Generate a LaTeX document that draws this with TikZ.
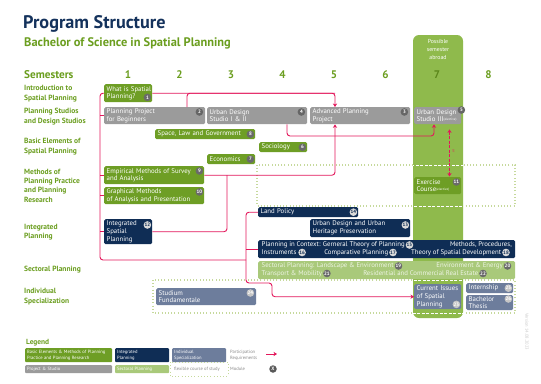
\documentclass[tikz,border=0pt]{standalone}
\usepackage{fontspec}
\setmainfont{PT Sans}
\usetikzlibrary{arrows.meta,positioning,calc}
\hyphenpenalty=10000
\exhyphenpenalty=10000
\hbadness=10000
\hfuzz=20pt
\definecolor{navy}{HTML}{14325C}
\definecolor{lblgreen}{HTML}{6B9E1F}
\definecolor{modgreen}{HTML}{6E9E25}
\definecolor{colgreen}{HTML}{8FBA4C}
\definecolor{secgreen}{HTML}{A9C97A}
\definecolor{modgrey}{HTML}{9B9B9B}
\definecolor{modnavy}{HTML}{0F2D55}
\definecolor{slate}{HTML}{6D7D9C}
\definecolor{reqc}{HTML}{E3175B}
\definecolor{flexc}{HTML}{C6D99C}
\definecolor{numgrey}{HTML}{6A6A6A}
\definecolor{txtgrey}{HTML}{8A8A8A}
\newcommand\modfont{\fontsize{6.8}{7.8}\selectfont\hyphenpenalty=10000 }
\newcommand\elect{\raisebox{1.8pt}{\fontsize{3.3}{3.5}\selectfont (elective)}}
\tikzset{
  mod/.style={anchor=north west, rounded corners=1.5pt, inner xsep=2.5pt, inner ysep=0pt,
    text=white, align=left, font=\modfont},
  num/.style={circle, fill=numgrey, text=white, inner sep=0pt, minimum size=7.6pt,
    font=\fontsize{4.9}{5}\selectfont\bfseries},
  numn/.style={num, fill=white!70!gray, text=modnavy},
  nums/.style={num, fill=white!55!gray},
  intxt/.style={inner sep=0pt, font=\modfont, text=white},
  sectxt/.style={inner sep=0pt, font=\modfont, text=white!80!secgreen},
  rowlbl/.style={anchor=west, align=left, inner sep=0pt, text=lblgreen,
    font=\fontsize{7.5}{9.4}\selectfont\bfseries},
  semnum/.style={anchor=base, inner sep=0pt, text=lblgreen, font=\fontsize{11}{13}\selectfont\bfseries},
  req/.style={draw=reqc, line width=0.9pt, rounded corners=3pt},
  reqtip/.style={-{Stealth[length=3.5pt,width=4.2pt]}},
  flex/.style={draw=flexc, line width=1.1pt, dash pattern=on 1pt off 2.2pt},
  flexw/.style={draw=white, line width=0.9pt, dash pattern=on 3pt off 1.5pt},
  lgbox/.style={anchor=north west, rounded corners=1pt, inner xsep=2pt, inner ysep=0pt,
    text=white, align=left, font=\fontsize{4.6}{5.8}\selectfont},
  lgtxt/.style={anchor=west, inner sep=0pt, align=left, text=txtgrey, font=\fontsize{4.6}{5.8}\selectfont}
}
\begin{document}
\begin{tikzpicture}[x=1pt,y=-1pt]
\fill[white] (0,0) rectangle (541,383);
\useasboundingbox (0,0) rectangle (541,383);

% titles
\node[anchor=base west, inner sep=0pt, text=navy, font=\fontsize{18.2}{22}\selectfont\bfseries] (title) at (23,28) {Program Structure};
\node[anchor=base west, inner sep=0pt, text=lblgreen, font=\fontsize{12.4}{14}\selectfont\bfseries] (subtitle) at (24,46) {Bachelor of Science in Spatial Planning};

% flexible course boxes (under column)
\draw[flex] (257,165) rectangle (515,206);
\draw[flex] (153,280) rectangle (515,313);

% semester 7 column
\fill[colgreen, rounded corners=6pt] (413,35) rectangle (463,318);
\begin{scope}
  \clip (413,0) rectangle (463,383);
  \draw[flexw] (257,165) rectangle (515,206);
  \draw[flexw] (153,280) rectangle (515,313);
\end{scope}
\node[inner sep=0pt, align=center, text=white, font=\fontsize{5.8}{7.6}\selectfont] (abroad) at (438,49.5) {Possible\\semester\\abroad};

% semesters
\node[anchor=base west, inner sep=0pt, text=lblgreen, font=\fontsize{11.2}{13}\selectfont\bfseries] (semlbl) at (24,78) {Semesters};
\node[semnum] (s1) at (128,78) {1};
\node[semnum] (s2) at (179.5,78) {2};
\node[semnum] (s3) at (231,78) {3};
\node[semnum] (s4) at (282.5,78) {4};
\node[semnum] (s5) at (334,78) {5};
\node[semnum] (s6) at (385.5,78) {6};
\node[semnum, text=lblgreen!85!black] (s7) at (437,78) {7};
\node[semnum] (s8) at (488.5,78) {8};

% row labels
\node[rowlbl] (r1) at (24,93.5) {Introduction to\\Spatial Planning};
\node[rowlbl] (r2) at (24,116.5) {Planning Studios\\and Design Studios};
\node[rowlbl] (r3) at (24,146.5) {Basic Elements of\\Spatial Planning};
\node[rowlbl] (r4) at (24,185.5) {Methods of\\Planning Practice\\and Planning\\Research};
\node[rowlbl] (r5) at (24,232) {Integrated\\Planning};
\node[rowlbl] (r6) at (24,270) {Sectoral Planning};
\node[rowlbl] (r7) at (24,296.5) {Individual\\Specialization};

% modules
\node[mod, fill=modgreen, minimum width=48, text width=43, minimum height=18] (m1) at (104,84) {\mbox{What is Spatial}\\Planning?};
\node[mod, fill=modgrey, minimum width=101, text width=96, minimum height=17] (m2) at (104,107) {Planning Project\\for Beginners};
\node[mod, fill=modgrey, minimum width=100, text width=95, minimum height=17] (m4) at (207,107) {Urban Design\\Studio I \& II};
\node[mod, fill=modgrey, minimum width=100, text width=95, minimum height=17] (m3) at (310,107) {Advanced Planning\\Project};
\node[mod, fill=modgrey, minimum width=47, text width=42, minimum height=17] (m5) at (414,107) {\mbox{Urban Design}\\\mbox{Studio III\elect}};
\node[mod, fill=modgreen, minimum width=100, text width=95, minimum height=10] (m8) at (155,129) {Space, Law and Government};
\node[mod, fill=modgreen, minimum width=48, text width=43, minimum height=10] (m6) at (259,142) {Sociology};
\node[mod, fill=modgreen, minimum width=48, text width=43, minimum height=10] (m7) at (207,154) {Economics};
\node[mod, fill=modgreen, minimum width=100, text width=95, minimum height=18] (m9) at (104,166) {Empirical Methods of Survey\\and Analysis};
\node[mod, fill=modgreen, minimum width=100, text width=95, minimum height=17] (m10) at (104,187) {Graphical Methods\\of Analysis and Presentation};
\node[mod, fill=modgreen, minimum width=47, text width=42, minimum height=17] (m11) at (414,177) {Exercise\\\mbox{Course\elect}};
\node[mod, fill=modnavy, minimum width=48, text width=43, minimum height=25] (m12) at (104,219) {Integrated\\Spatial\\Planning};
\node[mod, fill=modnavy, minimum width=100, text width=95, minimum height=10] (m14) at (258,207) {Land Policy};
\node[mod, fill=modnavy, minimum width=100, text width=95, minimum height=18] (m13) at (310,219) {Urban Design and Urban\\Heritage Preservation};
\node[mod, fill=modnavy, minimum width=257, text width=252, minimum height=18] (m15) at (258,240) {};
\node[mod, fill=secgreen, minimum width=257, text width=252, minimum height=18] (m19) at (258,261) {};
\node[mod, fill=slate, minimum width=100, text width=95, minimum height=17] (m24) at (156,288) {Studium\\Fundamentale};
\node[mod, fill=slate, minimum width=47, text width=42, minimum height=25] (m23) at (414,284) {\mbox{Current Issues}\\of Spatial\\Planning};
\node[mod, fill=slate, minimum width=47, text width=42, minimum height=10] (m25) at (466,283) {Internship};
\node[mod, fill=slate, minimum width=47, text width=42, minimum height=15] (m26) at (466,295) {Bachelor\\Thesis};

% numbers
\node[num] (n1) at ([xshift=-5pt,yshift=5pt]m1.south east) {1};
\node[num, fill=black!60] (n2) at ([xshift=-6pt,yshift=-5pt]m2.north east) {2};
\node[num, fill=black!60] (n4) at ([xshift=-6pt,yshift=-5pt]m4.north east) {4};
\node[num, fill=black!60] (n3) at ([xshift=-6pt,yshift=-5pt]m3.north east) {3};
\node[num, fill=black!60] (n5) at ([yshift=-3pt]m5.north east) {5};
\node[num] (n8) at ([xshift=-5pt]m8.east) {8};
\node[num] (n6) at ([xshift=-5pt]m6.east) {6};
\node[num] (n7) at ([xshift=-5pt]m7.east) {7};
\node[num] (n9) at ([xshift=-5pt,yshift=-5pt]m9.north east) {9};
\node[num] (n10) at ([xshift=-5pt,yshift=-5pt]m10.north east) {10};
\node[num] (n11) at ([xshift=-5pt,yshift=-5pt]m11.north east) {11};
\node[numn] (n12) at ([xshift=-5pt,yshift=-6pt]m12.north east) {12};
\node[numn] (n14) at ([xshift=-5pt]m14.east) {14};
\node[numn] (n13) at ([xshift=-5pt,yshift=-6pt]m13.north east) {13};
\node[nums] (n24) at ([xshift=-6pt,yshift=-5pt]m24.north east) {24};
\node[nums] (n23) at ([xshift=-5pt,yshift=5pt]m23.south east) {23};
\node[nums] (n25) at ([xshift=-5pt]m25.east) {25};
\node[nums] (n26) at ([xshift=-5pt,yshift=-4pt]m26.north east) {26};

% texts inside combined navy box
\node[intxt, anchor=west] (t15) at (261.5,245) {Planning in Context: Gerneral Theory of Planning};
\node[numn, right=0.6pt of t15] (n15) {15};
\node[intxt, anchor=east] (tmeth) at (512,245) {Methods, Procedures,};
\node[intxt, anchor=west] (t16) at (261.5,252.5) {Instruments};
\node[numn, right=1.5pt of t16] (n16) {16};
\node[numn] (n17) at (393,252.5) {17};
\node[intxt, anchor=east] (t17) at ([xshift=-0.6pt]n17.west) {Comparative Planning};
\node[numn] (n18) at (506,252.5) {18};
\node[intxt, anchor=east] (t18) at ([xshift=-0.6pt]n18.west) {Theory of Spatial Development};

% texts inside sectoral box
\node[sectxt, anchor=west] (t19) at (261.5,266) {Sectoral Planning: Landscape \& Environment};
\node[num, right=0.6pt of t19] (n19) {19};
\node[num] (n20) at (507.5,266) {20};
\node[sectxt, anchor=east] (t20) at ([xshift=-0.6pt]n20.west) {Environment \& Energy};
\node[sectxt, anchor=west] (t21) at (261.5,273.5) {Transport \& Mobility};
\node[num, right=0.6pt of t21] (n21) {21};
\node[num] (n22) at (483,273.5) {22};
\node[sectxt, anchor=east] (t22) at ([xshift=-0.6pt]n22.west) {Residential and Commercial Real Estate};

% connector helper coordinates
\coordinate (lx) at (100,0);
\coordinate (tj) at (246,260);
\coordinate (tk) at (246,283);
\coordinate (tk2) at (272,283);
\coordinate (ax) at (335,0);
\coordinate (bx) at (187,0);
\coordinate (cx) at (227,0);
\coordinate (dx) at (287,0);
\coordinate (dy) at (0,136);
\coordinate (ex) at (434,0);
\coordinate (fx) at (449.5,0);

% participation requirements
\draw[req] (m1.west) -| (lx |- tj) -- (tj);
\draw[req] (m2.west) -- (m2.west -| lx);
\draw[req] (m9.west) -- (m9.west -| lx);
\draw[req] (m10.west) -- (m10.west -| lx);
\draw[req] (m12.west) -- (m12.west -| lx);
\draw[req, reqtip] (m14.west) -| (tk) -- (tk2) |- (m23.west);
\draw[req] (m15.west) -- (m15.west -| tk);
\draw[req, reqtip] (m1.east) -| (ax |- m3.north);
\draw[req] (bx |- m2.north) |- (ax |- m1.east);
\draw[req, reqtip] (m9.east) -| (ax |- m3.south);
\draw[req] (m12.east) -| (cx |- m9.east);
\draw[req, reqtip] (dx |- m4.south) -- (dx |- dy) -| (ex |- m5.south);
\draw[draw=reqc, line width=0.9pt, dash pattern=on 3pt off 1.5pt,
  {Stealth[length=3.5pt,width=4.2pt]}-{Stealth[length=3.5pt,width=4.2pt]}]
  ([yshift=-5pt]fx |- m5.south) -- ([yshift=0.5pt]fx |- m11.north);
\node[rotate=-90, inner sep=0pt, text=reqc, font=\fontsize{3.4}{4}\selectfont] (orlbl) at (453.5,151) {or};

% legend
\node[anchor=base west, inner sep=0pt, text=lblgreen, font=\fontsize{7.4}{8}\selectfont\bfseries] (legend) at (26,344) {Legend};
\node[lgbox, fill=modgreen, minimum width=87, text width=83, minimum height=14] (lg1) at (25,348) {Basic Elements \& Methods of Planning\\Practice and Planning Research};
\node[lgbox, fill=modnavy, minimum width=54, text width=50, minimum height=14] (lg2) at (115,348) {Integrated\\Planning};
\node[lgbox, fill=slate, minimum width=54, text width=50, minimum height=14] (lg3) at (172,348) {Individual\\Specialization};
\node[lgtxt] (lgreq) at (230,355) {Participation\\Requirements};
\coordinate (la1) at (266,354);
\coordinate (la2) at (277,354);
\draw[req, reqtip] (la1) -- (la2);
\node[lgbox, fill=modgrey, minimum width=87, text width=83, minimum height=8] (lg4) at (25,365) {Project \& Studio};
\node[lgbox, fill=secgreen, minimum width=54, text width=50, minimum height=8] (lg5) at (115,365) {Sectoral Planning};
\draw[flex, line width=0.9pt] (170,362) rectangle (228,376);
\node[lgtxt] (lgflex) at (174,369) {flexible course of study};
\node[lgtxt] (lgmod) at (230,369) {Module};
\node[num, minimum size=7.5pt, fill=black!65] (lgx) at (273,369) {X};

% version
\node[rotate=-90, anchor=west, inner sep=0pt, text=black!20, font=\fontsize{4.5}{5}\selectfont] (version) at (527,313) {Version 14.08.2023};
\end{tikzpicture}
\end{document}
